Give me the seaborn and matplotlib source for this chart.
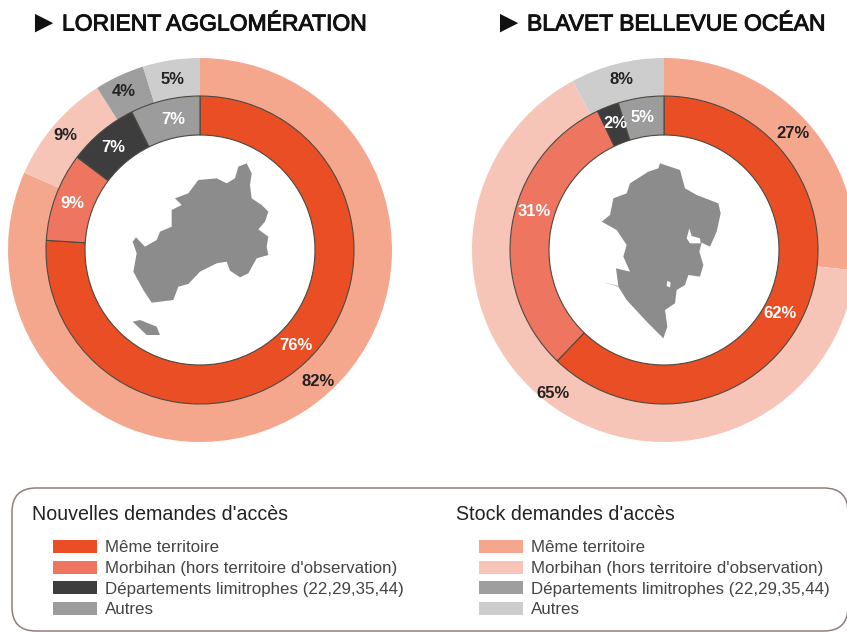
import matplotlib
matplotlib.use('Agg')
import matplotlib.pyplot as plt
import matplotlib.patheffects as pe
import seaborn as sns
from matplotlib.patches import FancyBboxPatch, Patch, Polygon

W, H = 847, 632

categories = ['Même territoire', 'Morbihan (hors territoire d\'observation)',
              'Départements limitrophes (22,29,35,44)', 'Autres']

# nouvelles demandes (anneau interieur), stock (anneau exterieur)
lorient_new = [76.0, 9.3, 7.4, 7.3]
lorient_stock = [81.6, 9.4, 4.2, 4.8]
blavet_new = [62.2, 30.7, 2.3, 4.8]
blavet_stock = [26.7, 65.4, 0.0, 7.9]

colors_new = ['#E94E24', '#EE7560', '#3D3D3D', '#9C9C9C']
colors_stock = ['#F5A78E', '#F7C5B8', '#9E9E9E', '#CDCDCD']

# contours des territoires, en pixels du zoom (x3)
lorient_map = [(380, 40), (395, 70), (390, 105), (395, 145), (425, 165), (445, 185), (435, 215),
               (415, 238), (445, 260), (440, 290), (445, 315), (410, 325), (385, 370), (360, 382),
               (330, 362), (320, 335), (290, 340), (240, 365), (205, 402), (175, 410), (160, 450),
               (95, 458), (70, 420), (40, 365), (50, 310), (38, 275), (48, 262), (75, 290),
               (110, 270), (120, 245), (155, 230), (155, 180), (185, 165), (165, 145), (205, 130),
               (235, 90), (290, 85), (320, 100), (345, 85), (355, 50)]
lorient_island = [(38, 515), (60, 510), (110, 530), (120, 555), (80, 555)]
blavet_map = [(210, 40), (270, 60), (285, 115), (320, 135), (385, 160), (392, 190), (380, 245),
              (360, 290), (335, 278), (328, 305), (340, 345), (330, 380), (295, 375), (285, 405),
              (260, 420), (255, 460), (225, 480), (232, 530), (220, 565), (170, 515), (110, 450),
              (85, 410), (40, 397), (85, 408), (78, 355), (120, 365), (100, 320), (110, 285),
              (80, 240), (35, 215), (60, 195), (70, 145), (110, 130), (120, 100), (175, 65),
              (205, 55)]
blavet_holes = [[(298, 235), (305, 258), (330, 265), (332, 280), (300, 280), (290, 265)],
                [(232, 392), (242, 398), (240, 412), (230, 408)]]

sns.set_theme(style='white')
plt.rcParams['font.family'] = ['Liberation Sans', 'DejaVu Sans']

fig = plt.figure(figsize=(W / 100, H / 100), dpi=100)
ax = fig.add_axes([0, 0, 1, 1])


def donut(cx, cy, inner, outer):
    center = (cx, H - cy)
    ax.pie(outer, colors=colors_stock, radius=192, center=center, startangle=90,
           counterclock=False, wedgeprops={'width': 38, 'linewidth': 0})
    ax.pie(inner, colors=colors_new, radius=154, center=center, startangle=90,
           counterclock=False, wedgeprops={'width': 39, 'edgecolor': '#4a4a40', 'linewidth': 0.8})


def territoire(points, x0, y0, color='#8C8C8C'):
    pts = [(x0 + x / 3, H - (y0 + y / 3)) for x, y in points]
    ax.add_patch(Polygon(pts, closed=True, facecolor=color, edgecolor='none'))


def pct(x, y, value, color='#222222'):
    ax.text(x, H - y, f'{value:.0f}%', color=color, fontsize=12, fontweight='bold',
            ha='center', va='center')


def titre(x, text):
    ax.text(x - 5, H - 24, '►', fontsize=22, color='#111111', ha='left', va='center')
    ax.text(x + 29, H - 24, text, fontsize=16.5, color='#111111', ha='left', va='center',
            path_effects=[pe.withStroke(linewidth=0.7, foreground='#111111')])


donut(200, 250, lorient_new, lorient_stock)
donut(664, 250, blavet_new, blavet_stock)

territoire(lorient_map, 120, 150)
territoire(lorient_island, 120, 150)
territoire(blavet_map, 590, 150)
for hole in blavet_holes:
    territoire(hole, 590, 150, color='white')

pct(173, 80, lorient_stock[3])
pct(124, 92, lorient_stock[2])
pct(65, 135, lorient_stock[1])
pct(318, 381, lorient_stock[0])
pct(173, 120, lorient_new[3], 'white')
pct(113, 147, lorient_new[2], 'white')
pct(72, 203, lorient_new[1], 'white')
pct(296, 346, lorient_new[0], 'white')

pct(622, 80, blavet_stock[3])
pct(793, 133, blavet_stock[0])
pct(553, 394, blavet_stock[1])
pct(615, 123, blavet_new[2], 'white')
pct(643, 118, blavet_new[3], 'white')
pct(534, 211, blavet_new[1], 'white')
pct(780, 313, blavet_new[0], 'white')

titre(33, 'LORIENT AGGLOMÉRATION')
titre(498, 'BLAVET BELLEVUE OCÉAN')

ax.add_patch(FancyBboxPatch((12, H - 631), 836, 143, boxstyle='round,pad=0,rounding_size=24',
                            facecolor='white', edgecolor='#8F7F7A', linewidth=1.1))


def legende(x, title_x, title, colors):
    ax.text(title_x, H - 514, title, fontsize=14.1, color='#222222', ha='left', va='center')
    handles = [Patch(facecolor=c, edgecolor='none', label=l) for c, l in zip(colors, categories)]
    return ax.legend(handles=handles, loc='upper left', bbox_to_anchor=(x, H - 540),
                     bbox_transform=ax.transData, frameon=False, fontsize=12.2,
                     labelcolor='#444444', handlelength=2.6, handleheight=0.8,
                     handletextpad=0.47, labelspacing=0.31, borderpad=0, borderaxespad=0)


first = legende(53, 32, 'Nouvelles demandes d\'accès', colors_new)
ax.add_artist(first)
legende(479, 456, 'Stock demandes d\'accès', colors_stock)

ax.set_xlim(0, W)
ax.set_ylim(0, H)
ax.set_aspect('auto')
ax.axis('off')

fig.savefig('out.png', dpi=100)
plt.close(fig)
